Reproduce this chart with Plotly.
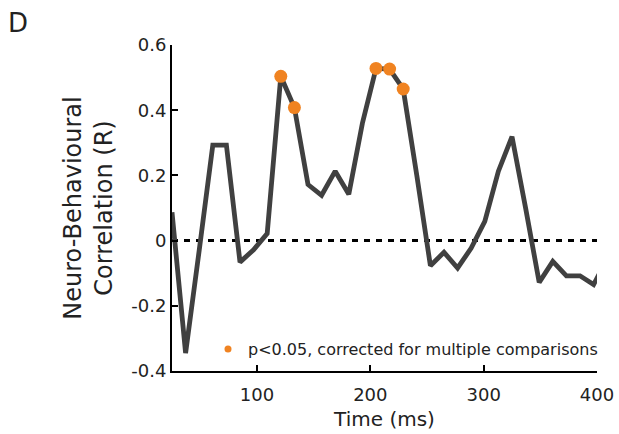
import plotly.graph_objects as go

# Data (time in ms, correlation R)
time_ms = [25, 37, 49, 61, 73, 85, 97, 109, 121, 133, 145, 157, 169, 181, 193, 205,
           217, 229, 241, 253, 265, 277, 289, 301, 313, 325, 337, 349, 361, 373, 385,
           397, 409]
corr_r = [0.087, -0.345, -0.03, 0.293, 0.293, -0.066, -0.028, 0.022, 0.504, 0.408,
          0.172, 0.139, 0.213, 0.142, 0.36, 0.528, 0.526, 0.465, 0.2, -0.077, -0.036,
          -0.084, -0.023, 0.059, 0.213, 0.319, 0.1, -0.128, -0.064, -0.108, -0.108,
          -0.135, -0.055]
sig_idx = [8, 9, 15, 16, 17]

x_ticks = [100, 200, 300, 400]
y_ticks = [-0.4, -0.2, 0, 0.2, 0.4, 0.6]
y_tick_text = ["-0.4", "-0.2", "0", "0.2", "0.4", "0.6"]

LINE_COL = "#404040"
ORANGE = "#F08321"
TXT = "#222222"
FONT = "DejaVu Sans"

fig = go.Figure()
fig.add_hline(y=0, line=dict(color="black", width=3, dash="6px,6px"), layer="below")
fig.add_trace(go.Scatter(x=time_ms, y=corr_r, mode="lines",
                         line=dict(color=LINE_COL, width=4.8), showlegend=False,
                         hoverinfo="skip"))
fig.add_trace(go.Scatter(x=[time_ms[i] for i in sig_idx], y=[corr_r[i] for i in sig_idx],
                         mode="markers", marker=dict(color=ORANGE, size=13),
                         showlegend=False))
fig.add_trace(go.Scatter(x=[None], y=[None], mode="markers",
                         marker=dict(color=ORANGE, size=7),
                         name="p<0.05, corrected for multiple comparisons"))

fig.update_layout(
    width=619, height=434,
    margin=dict(l=172, r=22, t=45, b=63, autoexpand=False),
    plot_bgcolor="white", paper_bgcolor="white",
    font=dict(family=FONT, color=TXT, size=18),
    showlegend=True,
    legend=dict(x=1 + 6 / 425, xanchor="right", y=5 / 326, yanchor="bottom",
                font=dict(size=16, family=FONT, color=TXT),
                bgcolor="rgba(0,0,0,0)", itemwidth=30, tracegroupgap=0),
    xaxis=dict(range=[25, 400], tickvals=x_ticks, ticks="inside", ticklen=6,
               tickwidth=2, tickcolor="black", showline=True, linecolor="black",
               linewidth=2, showgrid=False, zeroline=False, automargin=False,
               tickfont=dict(size=18), ticklabelstandoff=6,
               title=dict(text="Time (ms)", font=dict(size=20), standoff=8)),
    yaxis=dict(range=[-0.4, 0.6], tickvals=y_ticks, ticktext=y_tick_text,
               ticks="inside", ticklen=6, tickwidth=2, tickcolor="black",
               showline=True, linecolor="black", linewidth=2, showgrid=False,
               zeroline=False, automargin=False, tickfont=dict(size=18),
               ticklabelstandoff=0,
               title=dict(text="Neuro-Behavioural<br>Correlation (R)",
                          font=dict(size=24), standoff=12)),
    annotations=[dict(text="D", xref="paper", yref="paper",
                      x=(18 - 172) / 425, y=(371 - 23) / 326,
                      xanchor="center", yanchor="middle", showarrow=False,
                      font=dict(size=26, family=FONT, color=TXT))],
)

fig.write_html("out.html")
